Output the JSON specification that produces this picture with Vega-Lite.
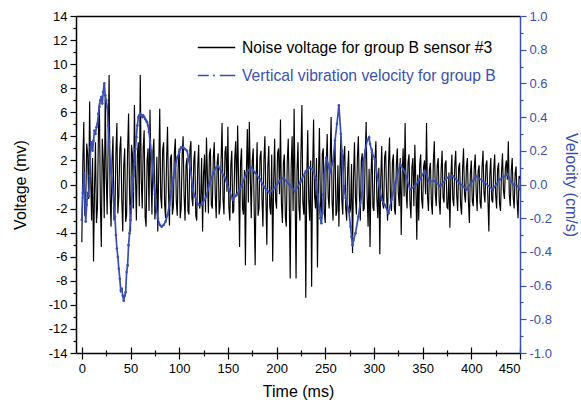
{
  "$schema": "https://vega.github.io/schema/vega-lite/v6.json",
  "width": 444,
  "height": 337,
  "autosize": {"type": "none"},
  "padding": {"left": 76, "top": 16, "right": 61, "bottom": 49},
  "background": "white",
  "config": {
    "view": {"stroke": null},
    "font": "Liberation Sans",
    "axis": {"labelFont": "Liberation Sans", "titleFont": "Liberation Sans", "titleFontWeight": "normal", "labelFontSize": 13, "titleFontSize": 16, "domainWidth": 1.5, "tickWidth": 1.2}
  },
  "datasets": {
    "noise": [
{"t":0,"v":-4.8},{"t":1,"v":1.8},{"t":2,"v":5.2},{"t":3,"v":-2.6},{"t":4,"v":-1.5},{"t":5,"v":3.4},{"t":6,"v":2.5},{"t":7,"v":-1.2},{"t":8,"v":6.9},{"t":9,"v":1.0},
{"t":10,"v":-3.0},{"t":11,"v":2.2},{"t":12,"v":-6.4},{"t":13,"v":-0.5},{"t":14,"v":3.5},{"t":15,"v":-3.2},{"t":16,"v":-2.0},{"t":17,"v":4.1},{"t":18,"v":6.8},{"t":19,"v":-1.5},
{"t":20,"v":-5.2},{"t":21,"v":3.8},{"t":22,"v":2.0},{"t":23,"v":-2.8},{"t":24,"v":7.5},{"t":25,"v":0.8},{"t":26,"v":-2.5},{"t":27,"v":3.2},{"t":28,"v":9.1},{"t":29,"v":-1.0},
{"t":30,"v":-3.5},{"t":31,"v":2.0},{"t":32,"v":4.0},{"t":33,"v":-3.0},{"t":34,"v":-2.2},{"t":35,"v":2.6},{"t":36,"v":5.1},{"t":37,"v":-2.4},{"t":38,"v":-1.0},{"t":39,"v":2.9},
{"t":40,"v":4.0},{"t":41,"v":-1.2},{"t":42,"v":-3.9},{"t":43,"v":1.5},{"t":44,"v":3.0},{"t":45,"v":-3.1},{"t":46,"v":-2.5},{"t":47,"v":2.8},{"t":48,"v":5.9},{"t":49,"v":-0.8},
{"t":50,"v":-3.9},{"t":51,"v":3.3},{"t":52,"v":2.5},{"t":53,"v":-2.0},{"t":54,"v":6.6},{"t":55,"v":1.2},{"t":56,"v":-3.0},{"t":57,"v":2.4},{"t":58,"v":3.5},{"t":59,"v":-1.8},
{"t":60,"v":9.1},{"t":61,"v":0.5},{"t":62,"v":-2.0},{"t":63,"v":3.0},{"t":64,"v":4.5},{"t":65,"v":-2.7},{"t":66,"v":-3.5},{"t":67,"v":2.0},{"t":68,"v":3.0},{"t":69,"v":-2.2},
{"t":70,"v":6.2},{"t":71,"v":0.9},{"t":72,"v":-2.5},{"t":73,"v":2.7},{"t":74,"v":3.8},{"t":75,"v":-2.9},{"t":76,"v":-1.5},{"t":77,"v":2.3},{"t":78,"v":-3.9},{"t":79,"v":1.4},
{"t":80,"v":6.3},{"t":81,"v":-1.0},{"t":82,"v":-2.0},{"t":83,"v":2.9},{"t":84,"v":3.5},{"t":85,"v":-1.6},{"t":86,"v":-2.8},{"t":87,"v":1.9},{"t":88,"v":4.8},{"t":89,"v":-0.7},
{"t":90,"v":-3.4},{"t":91,"v":2.2},{"t":92,"v":2.5},{"t":93,"v":-2.5},{"t":94,"v":-1.8},{"t":95,"v":2.6},{"t":96,"v":3.8},{"t":97,"v":-1.4},{"t":98,"v":-2.6},{"t":99,"v":1.7},
{"t":100,"v":3.0},{"t":101,"v":-2.8},{"t":102,"v":-2.0},{"t":103,"v":2.4},{"t":104,"v":4.0},{"t":105,"v":-0.9},{"t":106,"v":-3.0},{"t":107,"v":1.6},{"t":108,"v":2.2},{"t":109,"v":-2.2},
{"t":110,"v":-2.5},{"t":111,"v":2.9},{"t":112,"v":3.6},{"t":113,"v":-1.1},{"t":114,"v":-1.8},{"t":115,"v":2.0},{"t":116,"v":2.8},{"t":117,"v":-2.6},{"t":118,"v":-3.0},{"t":119,"v":1.5},
{"t":120,"v":3.3},{"t":121,"v":-2.0},{"t":122,"v":-1.5},{"t":123,"v":2.2},{"t":124,"v":-3.9},{"t":125,"v":0.8},{"t":126,"v":2.5},{"t":127,"v":-2.3},{"t":128,"v":3.9},{"t":129,"v":0.6},
{"t":130,"v":-2.4},{"t":131,"v":2.5},{"t":132,"v":3.0},{"t":133,"v":-1.7},{"t":134,"v":-2.0},{"t":135,"v":2.2},{"t":136,"v":3.5},{"t":137,"v":-0.8},{"t":138,"v":-2.8},{"t":139,"v":1.8},
{"t":140,"v":2.6},{"t":141,"v":-2.5},{"t":142,"v":-1.8},{"t":143,"v":2.0},{"t":144,"v":5.1},{"t":145,"v":-1.2},{"t":146,"v":-2.5},{"t":147,"v":2.7},{"t":148,"v":3.2},{"t":149,"v":-0.6},
{"t":150,"v":4.8},{"t":151,"v":-1.9},{"t":152,"v":-3.0},{"t":153,"v":1.6},{"t":154,"v":2.8},{"t":155,"v":-2.4},{"t":156,"v":-2.2},{"t":157,"v":2.1},{"t":158,"v":3.6},{"t":159,"v":-1.0},
{"t":160,"v":4.9},{"t":161,"v":0.4},{"t":162,"v":-5.2},{"t":163,"v":1.8},{"t":164,"v":3.0},{"t":165,"v":-2.0},{"t":166,"v":-2.5},{"t":167,"v":1.2},{"t":168,"v":-6.7},{"t":169,"v":1.0},
{"t":170,"v":4.6},{"t":171,"v":-1.5},{"t":172,"v":5.2},{"t":173,"v":0.8},{"t":174,"v":-2.8},{"t":175,"v":1.9},{"t":176,"v":3.0},{"t":177,"v":-2.0},{"t":178,"v":-6.7},{"t":179,"v":0.5},
{"t":180,"v":3.5},{"t":181,"v":-2.6},{"t":182,"v":-2.0},{"t":183,"v":2.3},{"t":184,"v":2.8},{"t":185,"v":-1.2},{"t":186,"v":-3.5},{"t":187,"v":2.0},{"t":188,"v":4.0},{"t":189,"v":-1.0},
{"t":190,"v":-5.0},{"t":191,"v":1.4},{"t":192,"v":3.2},{"t":193,"v":-1.8},{"t":194,"v":-2.5},{"t":195,"v":2.5},{"t":196,"v":-6.4},{"t":197,"v":0.2},{"t":198,"v":3.8},{"t":199,"v":-1.3},
{"t":200,"v":-2.0},{"t":201,"v":2.6},{"t":202,"v":3.0},{"t":203,"v":-0.8},{"t":204,"v":5.4},{"t":205,"v":-1.6},{"t":206,"v":-3.2},{"t":207,"v":1.8},{"t":208,"v":2.5},{"t":209,"v":-2.7},
{"t":210,"v":-3.5},{"t":211,"v":2.0},{"t":212,"v":3.8},{"t":213,"v":-1.0},{"t":214,"v":-7.8},{"t":215,"v":1.5},{"t":216,"v":4.0},{"t":217,"v":-2.2},{"t":218,"v":6.3},{"t":219,"v":-0.5},
{"t":220,"v":-7.8},{"t":221,"v":1.2},{"t":222,"v":3.5},{"t":223,"v":-1.9},{"t":224,"v":-3.0},{"t":225,"v":2.4},{"t":226,"v":6.6},{"t":227,"v":-1.5},{"t":228,"v":-2.5},{"t":229,"v":1.0},
{"t":230,"v":-9.4},{"t":231,"v":0.6},{"t":232,"v":4.5},{"t":233,"v":-1.2},{"t":234,"v":-3.0},{"t":235,"v":2.0},{"t":236,"v":-8.5},{"t":237,"v":1.1},{"t":238,"v":5.4},{"t":239,"v":-0.9},
{"t":240,"v":-2.0},{"t":241,"v":2.2},{"t":242,"v":-6.9},{"t":243,"v":0.4},{"t":244,"v":4.7},{"t":245,"v":-1.7},{"t":246,"v":-2.5},{"t":247,"v":2.6},{"t":248,"v":3.0},{"t":249,"v":-2.3},
{"t":250,"v":-3.2},{"t":251,"v":1.5},{"t":252,"v":4.2},{"t":253,"v":-1.0},{"t":254,"v":-2.0},{"t":255,"v":2.1},{"t":256,"v":5.6},{"t":257,"v":-1.4},{"t":258,"v":-3.0},{"t":259,"v":1.8},
{"t":260,"v":3.5},{"t":261,"v":-2.6},{"t":262,"v":-2.2},{"t":263,"v":1.6},{"t":264,"v":-3.5},{"t":265,"v":0.9},{"t":266,"v":4.0},{"t":267,"v":-1.3},{"t":268,"v":-2.5},{"t":269,"v":2.3},
{"t":270,"v":3.2},{"t":271,"v":-1.9},{"t":272,"v":-3.0},{"t":273,"v":1.2},{"t":274,"v":2.8},{"t":275,"v":-2.4},{"t":276,"v":-2.0},{"t":277,"v":1.7},{"t":278,"v":-5.7},{"t":279,"v":0.6},
{"t":280,"v":3.5},{"t":281,"v":-1.1},{"t":282,"v":-2.5},{"t":283,"v":2.2},{"t":284,"v":4.0},{"t":285,"v":-0.8},{"t":286,"v":-3.0},{"t":287,"v":2.0},{"t":288,"v":2.6},{"t":289,"v":-2.2},
{"t":290,"v":-2.0},{"t":291,"v":2.4},{"t":292,"v":5.2},{"t":293,"v":-0.9},{"t":294,"v":-3.5},{"t":295,"v":1.3},{"t":296,"v":-5.2},{"t":297,"v":0.8},{"t":298,"v":3.0},{"t":299,"v":-1.9},
{"t":300,"v":-2.2},{"t":301,"v":2.0},{"t":302,"v":3.6},{"t":303,"v":-1.2},{"t":304,"v":-2.8},{"t":305,"v":1.4},{"t":306,"v":-5.8},{"t":307,"v":0.5},{"t":308,"v":3.2},{"t":309,"v":-1.6},
{"t":310,"v":-2.0},{"t":311,"v":2.3},{"t":312,"v":2.8},{"t":313,"v":-0.9},{"t":314,"v":-3.0},{"t":315,"v":1.8},{"t":316,"v":3.9},{"t":317,"v":-1.4},{"t":318,"v":-2.2},{"t":319,"v":1.9},
{"t":320,"v":2.5},{"t":321,"v":-2.0},{"t":322,"v":-2.5},{"t":323,"v":1.6},{"t":324,"v":3.0},{"t":325,"v":-0.7},{"t":326,"v":-1.8},{"t":327,"v":2.2},{"t":328,"v":-4.2},{"t":329,"v":0.9},
{"t":330,"v":3.0},{"t":331,"v":-1.0},{"t":332,"v":5.1},{"t":333,"v":-0.6},{"t":334,"v":-2.0},{"t":335,"v":1.8},{"t":336,"v":2.5},{"t":337,"v":-1.5},{"t":338,"v":-2.8},{"t":339,"v":1.4},
{"t":340,"v":2.2},{"t":341,"v":-1.8},{"t":342,"v":3.3},{"t":343,"v":0.2},{"t":344,"v":-4.6},{"t":345,"v":0.8},{"t":346,"v":-3.0},{"t":347,"v":1.7},{"t":348,"v":2.5},{"t":349,"v":-1.2},
{"t":350,"v":-2.0},{"t":351,"v":1.5},{"t":352,"v":2.0},{"t":353,"v":-0.8},{"t":354,"v":5.1},{"t":355,"v":-1.0},{"t":356,"v":-2.2},{"t":357,"v":1.3},{"t":358,"v":1.8},{"t":359,"v":-1.6},
{"t":360,"v":-2.5},{"t":361,"v":1.9},{"t":362,"v":3.6},{"t":363,"v":-0.7},{"t":364,"v":-1.8},{"t":365,"v":1.6},{"t":366,"v":2.2},{"t":367,"v":-1.4},{"t":368,"v":-2.5},{"t":369,"v":1.2},
{"t":370,"v":2.8},{"t":371,"v":-1.1},{"t":372,"v":-1.5},{"t":373,"v":1.7},{"t":374,"v":2.0},{"t":375,"v":-1.9},{"t":376,"v":-2.0},{"t":377,"v":1.0},{"t":378,"v":-3.6},{"t":379,"v":0.6},
{"t":380,"v":2.5},{"t":381,"v":-1.2},{"t":382,"v":-1.8},{"t":383,"v":1.6},{"t":384,"v":2.8},{"t":385,"v":-0.9},{"t":386,"v":-2.2},{"t":387,"v":1.4},{"t":388,"v":1.8},{"t":389,"v":-1.7},
{"t":390,"v":-2.5},{"t":391,"v":1.2},{"t":392,"v":3.0},{"t":393,"v":-0.8},{"t":394,"v":-1.5},{"t":395,"v":1.5},{"t":396,"v":2.2},{"t":397,"v":-1.3},{"t":398,"v":-3.2},{"t":399,"v":0.9},
{"t":400,"v":2.0},{"t":401,"v":-1.4},{"t":402,"v":-1.8},{"t":403,"v":1.3},{"t":404,"v":2.5},{"t":405,"v":-0.6},{"t":406,"v":-2.2},{"t":407,"v":1.1},{"t":408,"v":1.6},{"t":409,"v":-1.5},
{"t":410,"v":-2.0},{"t":411,"v":1.4},{"t":412,"v":2.8},{"t":413,"v":-0.7},{"t":414,"v":-1.5},{"t":415,"v":1.6},{"t":416,"v":2.0},{"t":417,"v":-1.1},{"t":418,"v":-3.9},{"t":419,"v":0.8},
{"t":420,"v":2.2},{"t":421,"v":-1.3},{"t":422,"v":-1.5},{"t":423,"v":1.2},{"t":424,"v":2.5},{"t":425,"v":-0.9},{"t":426,"v":-2.0},{"t":427,"v":1.3},{"t":428,"v":1.8},{"t":429,"v":-1.6},
{"t":430,"v":-2.2},{"t":431,"v":1.0},{"t":432,"v":2.6},{"t":433,"v":-0.5},{"t":434,"v":-1.2},{"t":435,"v":1.4},{"t":436,"v":2.0},{"t":437,"v":0.4},{"t":438,"v":3.6},{"t":439,"v":-0.8},
{"t":440,"v":-1.8},{"t":441,"v":1.1},{"t":442,"v":2.2},{"t":443,"v":-1.0},{"t":444,"v":-2.0},{"t":445,"v":0.9},{"t":446,"v":1.5},{"t":447,"v":-1.3},{"t":448,"v":-2.8},{"t":449,"v":0.7},
{"t":450,"v":0.5}
    ],
    "vel": [
      {"t":0,"v":-0.21},{"t":1,"v":-0.05},{"t":2,"v":0.07},{"t":3,"v":-0.08},{"t":4,"v":-0.22},{"t":5,"v":-0.12},{"t":6,"v":-0.05},{"t":7,"v":-0.07},{"t":8,"v":0.05},{"t":9,"v":0.22},
      {"t":10,"v":0.25},{"t":11,"v":0.2},{"t":12,"v":0.26},{"t":13,"v":0.32},{"t":14,"v":0.3},{"t":15,"v":0.34},{"t":16,"v":0.36},{"t":17,"v":0.42},{"t":18,"v":0.46},{"t":19,"v":0.5},
      {"t":20,"v":0.52},{"t":21,"v":0.48},{"t":22,"v":0.55},{"t":23,"v":0.6},{"t":24,"v":0.53},{"t":25,"v":0.5},{"t":26,"v":0.46},{"t":27,"v":0.35},{"t":28,"v":0.25},{"t":29,"v":0.14},
      {"t":30,"v":0.07},{"t":31,"v":0.03},{"t":32,"v":-0.05},{"t":33,"v":-0.14},{"t":34,"v":-0.19},{"t":35,"v":-0.3},{"t":36,"v":-0.38},{"t":37,"v":-0.43},{"t":38,"v":-0.5},{"t":39,"v":-0.56},
      {"t":40,"v":-0.63},{"t":41,"v":-0.62},{"t":42,"v":-0.66},{"t":43,"v":-0.69},{"t":44,"v":-0.66},{"t":45,"v":-0.64},{"t":46,"v":-0.52},{"t":47,"v":-0.48},{"t":48,"v":-0.36},{"t":49,"v":-0.29},
      {"t":50,"v":-0.21},{"t":51,"v":-0.13},{"t":52,"v":-0.04},{"t":53,"v":0.05},{"t":54,"v":0.12},{"t":55,"v":0.21},{"t":56,"v":0.28},{"t":57,"v":0.35},{"t":58,"v":0.4},{"t":59,"v":0.41},
      {"t":60,"v":0.42},{"t":61,"v":0.41},{"t":62,"v":0.4},{"t":63,"v":0.41},{"t":64,"v":0.4},{"t":65,"v":0.39},{"t":66,"v":0.38},{"t":67,"v":0.37},{"t":68,"v":0.35},{"t":69,"v":0.31},
      {"t":70,"v":0.26},{"t":71,"v":0.2},{"t":72,"v":0.14},{"t":73,"v":0.07},{"t":74,"v":0.0},{"t":75,"v":-0.06},{"t":76,"v":-0.12},{"t":78,"v":-0.2},{"t":80,"v":-0.24},{"t":82,"v":-0.25},
      {"t":84,"v":-0.24},{"t":86,"v":-0.22},{"t":88,"v":-0.18},{"t":90,"v":-0.12},{"t":92,"v":-0.04},{"t":94,"v":0.04},{"t":96,"v":0.11},{"t":98,"v":0.16},{"t":100,"v":0.19},{"t":102,"v":0.22},
      {"t":104,"v":0.22},{"t":106,"v":0.21},{"t":108,"v":0.2},{"t":110,"v":0.14},{"t":112,"v":0.07},{"t":114,"v":-0.03},{"t":116,"v":-0.07},{"t":118,"v":-0.1},{"t":120,"v":-0.12},{"t":123,"v":-0.12},
      {"t":126,"v":-0.09},{"t":128,"v":-0.07},{"t":131,"v":0.0},{"t":135,"v":0.07},{"t":138,"v":0.1},{"t":140,"v":0.11},{"t":143,"v":0.08},{"t":147,"v":0.04},{"t":151,"v":-0.03},{"t":155,"v":-0.09},
      {"t":159,"v":-0.06},{"t":164,"v":-0.01},{"t":169,"v":0.07},{"t":174,"v":0.1},{"t":178,"v":0.07},{"t":183,"v":0.03},{"t":188,"v":-0.02},{"t":193,"v":-0.05},{"t":198,"v":-0.02},{"t":203,"v":0.02},
      {"t":207,"v":0.04},{"t":213,"v":0.0},{"t":219,"v":-0.04},{"t":225,"v":0.02},{"t":230,"v":0.08},{"t":234,"v":0.1},{"t":237,"v":0.09},{"t":240,"v":0.04},{"t":242,"v":-0.06},{"t":244,"v":-0.14},
      {"t":245,"v":-0.2},{"t":246,"v":-0.23},{"t":247,"v":-0.17},{"t":248,"v":-0.06},{"t":249,"v":0.05},{"t":251,"v":0.16},{"t":253,"v":0.12},{"t":255,"v":0.07},{"t":257,"v":0.12},{"t":258,"v":0.14},
      {"t":260,"v":0.26},{"t":262,"v":0.36},{"t":264,"v":0.47},{"t":266,"v":0.3},{"t":267,"v":0.2},{"t":268,"v":0.11},{"t":269,"v":-0.01},{"t":271,"v":-0.08},{"t":274,"v":-0.15},{"t":276,"v":-0.25},
      {"t":277,"v":-0.31},{"t":278,"v":-0.36},{"t":279,"v":-0.33},{"t":281,"v":-0.29},{"t":284,"v":-0.19},{"t":286,"v":-0.11},{"t":288,"v":-0.05},{"t":289,"v":0.13},{"t":291,"v":0.2},{"t":293,"v":0.26},
      {"t":295,"v":0.28},{"t":296,"v":0.24},{"t":298,"v":0.19},{"t":301,"v":0.15},{"t":304,"v":0.03},{"t":308,"v":-0.09},{"t":311,"v":-0.12},{"t":315,"v":-0.17},{"t":318,"v":-0.09},{"t":322,"v":0.01},
      {"t":327,"v":0.12},{"t":332,"v":0.07},{"t":337,"v":-0.03},{"t":342,"v":-0.01},{"t":347,"v":0.03},{"t":352,"v":0.08},{"t":357,"v":0.02},{"t":363,"v":0.02},{"t":368,"v":-0.01},{"t":375,"v":0.04},
      {"t":381,"v":0.05},{"t":388,"v":0.01},{"t":395,"v":-0.03},{"t":405,"v":0.05},{"t":414,"v":0.01},{"t":422,"v":-0.03},{"t":429,"v":0.03},{"t":437,"v":0.06},{"t":443,"v":0.0},{"t":448,"v":-0.01},
      {"t":450,"v":-0.03}
    ]
  },
  "layer": [
    {
      "data": {"name": "noise"},
      "mark": {"type": "line", "strokeWidth": 1.15, "interpolate": "linear"},
      "encoding": {
        "x": {"field": "t", "type": "quantitative",
          "scale": {"domain": [-6, 450], "nice": false, "zero": false},
          "axis": {"orient": "bottom", "title": "Time (ms)", "titlePadding": 8,
            "values": [0,25,50,75,100,125,150,175,200,225,250,275,300,325,350,375,400,425,450],
            "labelExpr": "datum.value % 50 === 0 ? datum.label : ''",
            "tickSize": {"condition": {"test": "datum.value % 50 === 0", "value": 6}, "value": 3},
            "grid": true, "gridColor": "black", "gridWidth": 1.2, "gridOpacity": 1,
            "gridDash": {"condition": {"test": "datum.value % 50 === 0", "value": [0, 331, 6, 1000]}, "value": [0, 334, 3, 1000]},
            "domainColor": "black", "tickColor": "black", "labelColor": "black", "titleColor": "black", "labelPadding": 3}},
        "y": {"field": "v", "type": "quantitative",
          "scale": {"domain": [-14, 14], "nice": false},
          "axis": {"orient": "left", "title": "Voltage (mv)", "titlePadding": 20,
            "values": [-14,-13,-12,-11,-10,-9,-8,-7,-6,-5,-4,-3,-2,-1,0,1,2,3,4,5,6,7,8,9,10,11,12,13,14],
            "labelExpr": "datum.value % 2 === 0 ? replace(format(datum.value, 'd'), '\u2212', '-') : ''",
            "tickSize": {"condition": {"test": "datum.value % 2 === 0", "value": 6}, "value": 3},
            "grid": true, "gridColor": "black", "gridWidth": 1.5,
            "gridOpacity": {"condition": {"test": "datum.value === 14", "value": 1}, "value": 0},
            "domainColor": "black", "tickColor": "black", "labelColor": "black", "titleColor": "black", "labelPadding": 3}},
        "color": {"datum": "Noise voltage for group B sensor #3", "type": "nominal",
          "scale": {"domain": ["Noise voltage for group B sensor #3", "Vertical vibration velocity for group B"], "range": ["#000000", "#3a4fb0"]},
          "legend": {"orient": "none", "legendX": 121, "legendY": 12, "title": null,
            "symbolType": "stroke", "symbolSize": 1400, "symbolStrokeWidth": 1.3,
            "labelFontSize": 15.7, "labelFont": "Liberation Sans", "labelOffset": 6, "labelLimit": 0, "rowPadding": -20,
            "encode": {
              "labels": {"update": {"fill": {"signal": "datum.value === 'Noise voltage for group B sensor #3' ? '#000000' : '#3a4fb0'"}}},
              "symbols": {"update": {"strokeDash": {"signal": "datum.value === 'Noise voltage for group B sensor #3' ? [1, 0] : [11, 4, 2, 5, 20]"}}}
            }}}
      }
    },
    {
      "data": {"name": "vel"},
      "mark": {"type": "line", "strokeWidth": 1.7, "point": {"filled": true, "size": 7}},
      "encoding": {
        "x": {"field": "t", "type": "quantitative",
          "scale": {"domain": [-6, 450], "nice": false, "zero": false},
          "axis": null},
        "y": {"field": "v", "type": "quantitative",
          "scale": {"domain": [-1, 1], "nice": false},
          "axis": {"orient": "right", "title": "Velocity (cm/s)", "titlePadding": 11, "grid": false,
            "values": [-1,-0.9,-0.8,-0.7,-0.6,-0.5,-0.4,-0.3,-0.2,-0.1,0,0.1,0.2,0.3,0.4,0.5,0.6,0.7,0.8,0.9,1],
            "labelExpr": "abs(round(datum.value * 10)) % 2 === 0 ? replace(format(datum.value, '.1f'), '\u2212', '-') : ''",
            "tickSize": {"condition": {"test": "abs(round(datum.value * 10)) % 2 === 0", "value": 6}, "value": 3},
            "domainColor": "#3a4fb0", "tickColor": "#3a4fb0", "labelColor": "#3a4fb0", "titleColor": "#3a4fb0", "labelPadding": 3}},
        "color": {"datum": "Vertical vibration velocity for group B", "type": "nominal"}
      }
    }
  ],
  "resolve": {"scale": {"x": "independent", "y": "independent"}, "axis": {"x": "independent", "y": "independent"}}
}
